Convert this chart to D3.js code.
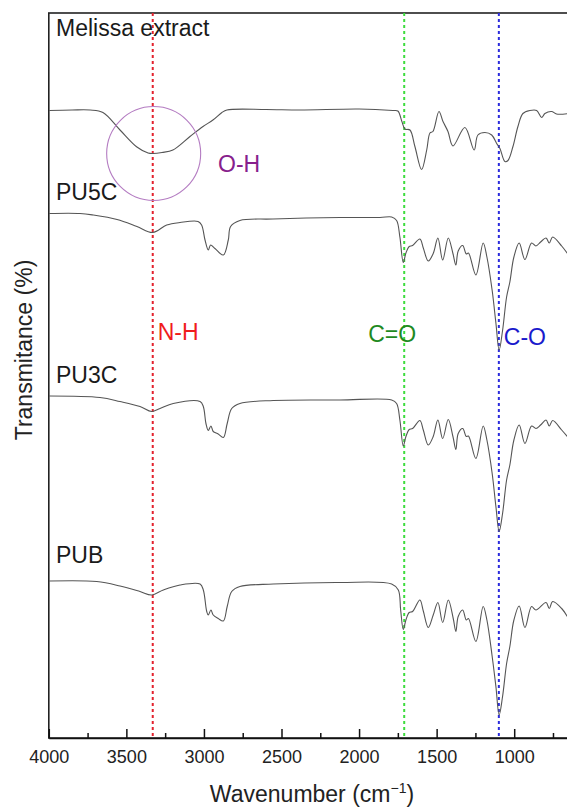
<!DOCTYPE html>
<html>
<head>
<meta charset="utf-8">
<script src="https://cdn.jsdelivr.net/npm/d3@7"></script>
<style>
  body { margin: 0; background: #fff; }
  text { font-family: "Liberation Sans", Arial, sans-serif; }
</style>
</head>
<body>
<div id="chart"></div>
<script>
// FTIR spectra, stacked with offsets: [wavenumber (cm-1), transmittance (a.u.)]
const melissa = [
  [3998,125.5],[3850,125.6],[3734,125.6],[3651,125.1],[3541,121.6],[3432,118.2],[3360,117.0],
  [3328,116.9],[3270,117.1],[3200,117.6],[3090,120.3],[3006,122.3],[2942,123.6],[2884,125.1],[2852,125.6],
  [2600,125.7],[2381,125.6],[2000,125.8],[1782,125.5],[1750,125.4],[1724,123.3],[1704,121.8],[1672,121.6],
  [1640,118.3],[1597,113.7],[1564,117.6],[1543,121],[1524,121.3],[1485,125.3],[1459,123.3],[1427,121.3],
  [1395,118.4],[1318,122.1],[1258,117.6],[1234,120.6],[1189,121.1],[1145,120.6],[1113,118.9],[1092,117.9],
  [1060,115.3],[1040,115.5],[1008,118.3],[976,122.3],[944,124.9],[899,125.5],[855,125.5],[823,124.1],
  [802,124.9],[759,125.3],[727,124.8],[650,124.9]
]
const pu5c = [
  [3998,104.9],[3799,104.9],[3715,104.6],[3560,103.7],[3432,102.3],[3330,101.1],[3240,102.6],[3154,103.1],
  [3038,103.3],[3015,102.6],[2993,99.6],[2972,97.6],[2957,98.6],[2929,97.9],[2875,96.6],[2843,99.6],
  [2828,102.3],[2768,103.5],[2555,103.8],[2123,104.1],[1865,104.1],[1790,104.2],[1758,103.5],[1737,100.2],
  [1715,95.1],[1698,97.0],[1677,98.3],[1655,98.5],[1608,99.8],[1586,98.0],[1554,95.4],[1522,96.9],
  [1492,100.0],[1461,95.6],[1425,100.0],[1395,96.9],[1376,94.6],[1361,97.4],[1332,98.5],[1309,96.8],
  [1295,97.0],[1247,92.6],[1200,99.0],[1176,96.2],[1142,89.5],[1118,83.0],[1097,77.6],[1075,81.5],
  [1049,88.2],[1028,91.2],[1002,96.2],[968,99.0],[931,95.7],[888,99.0],[860,98.4],[830,99.2],
  [795,100.0],[774,99.0],[752,100.2],[694,98.4],[650,96.6]
]
const pu3c = [
  [3998,68.4],[3670,68.1],[3541,67.3],[3412,66.3],[3337,65.3],[3283,65.9],[3198,66.9],[3025,67.3],
  [3004,66.3],[2987,62.9],[2972,61.5],[2955,62.4],[2940,61.3],[2908,60.8],[2875,60.1],[2850,62.9],
  [2821,65.9],[2768,66.9],[2553,67.5],[2123,67.6],[1790,67.6],[1758,66.9],[1737,63.6],[1715,58.4],
  [1698,60.3],[1677,61.7],[1655,61.9],[1608,63.5],[1586,61.6],[1554,58.6],[1522,60.3],[1492,63.6],
  [1461,59.9],[1425,63.7],[1395,60.3],[1376,57.7],[1361,60.9],[1332,61.9],[1309,60.3],[1295,60.4],
  [1247,55.9],[1200,62.4],[1176,59.6],[1142,52.9],[1118,46.3],[1097,41.3],[1075,44.9],[1049,51.6],
  [1028,54.6],[1002,59.6],[968,62.6],[931,58.9],[888,62.4],[860,61.9],[830,62.6],[795,63.6],
  [774,62.4],[752,63.5],[694,61.6],[650,60]
]
const pub = [
  [3998,31.4],[3691,31.3],[3541,30.4],[3412,29.3],[3337,28.6],[3262,29.6],[3154,30.6],[3025,30.8],
  [3004,29.6],[2982,25.3],[2972,24.6],[2955,25.6],[2940,24.6],[2908,23.9],[2875,23.4],[2850,26.3],
  [2821,29.3],[2768,30.3],[2553,30.8],[2123,31.1],[1790,30.8],[1747,29.6],[1732,25.6],[1715,21.7],
  [1698,23.6],[1677,25.1],[1655,25.3],[1608,27.6],[1586,25.4],[1554,22.1],[1522,24.6],[1492,27.1],
  [1461,23.1],[1425,27.6],[1393,23.9],[1376,21.3],[1361,24.3],[1332,25.6],[1309,23.6],[1295,23.9],
  [1247,19.3],[1200,26.3],[1176,23.6],[1142,16.3],[1118,10.3],[1097,4.6],[1075,8.3],[1049,14.9],
  [1028,18.3],[1002,23.6],[968,26.4],[931,22.1],[888,26.3],[860,25.6],[795,27.1],[774,25.9],
  [752,27.3],[694,25.9],[650,23.9]
]

// spectrum names with the value their label sits at
const seriesNames = ["Melissa extract", "PU5C", "PU3C", "PUB"]
const seriesLabelY = [140.4, 107.7, 71.1, 35.1]

// marker bands: wavenumber, label, colours
const bandWavenumbers = [3330, 1709, 1099]
const bandLabels = ["N-H", "C=O", "C-O"]
const bandLineColors = ["#e3222e", "#3ddc3d", "#2b2bdc"]
const bandTextColors = ["#f01c1c", "#1f8a1f", "#1a1acc"]
const bandLabelY = [79.6, 79.3, 78.6]

// O-H circle on the extract curve
const ohCenter = [3324, 116.9]

const majorTicks = [4000, 3500, 3000, 2500, 2000, 1500, 1000]
const minorTicks = [3750, 3250, 2750, 2250, 1750, 1250, 750]

const width = 567
const height = 811

const xScale = d3.scaleLinear().domain([4000, 650]).range([48.8, 568.5])
const yScale = d3.scaleLinear().domain([0, 145]).range([738, 13])

const svg = d3.select('#chart')
  .append('svg')
  .attr('width', width)
  .attr('height', height)

// frame
svg.append('rect')
  .attr('x', xScale(4000))
  .attr('y', yScale(145))
  .attr('width', xScale(650) - xScale(4000))
  .attr('height', yScale(0) - yScale(145))
  .attr('fill', 'none')
  .attr('stroke', '#222')
  .attr('stroke-width', 1.6)

// dotted marker lines
svg.append('g')
  .selectAll('line')
  .data(bandWavenumbers)
  .join('line')
  .attr('x1', d => xScale(d))
  .attr('x2', d => xScale(d))
  .attr('y1', yScale(145))
  .attr('y2', yScale(0))
  .attr('stroke', (d, i) => bandLineColors[i])
  .attr('stroke-width', 2)
  .attr('stroke-dasharray', '3,3')

// spectra
const line = d3.line()
  .x(d => xScale(d[0]))
  .y(d => yScale(d[1]))
  .curve(d3.curveCatmullRom.alpha(0.5))

svg.append('g')
  .selectAll('path')
  .data([melissa, pu5c, pu3c, pub])
  .join('path')
  .attr('d', line)
  .attr('fill', 'none')
  .attr('stroke', '#555')
  .attr('stroke-width', 1.1)

// spectrum names
svg.append('g')
  .selectAll('text')
  .data(seriesNames)
  .join('text')
  .attr('x', 56)
  .attr('y', (d, i) => yScale(seriesLabelY[i]))
  .attr('font-size', 23)
  .attr('fill', '#1a1a1a')
  .text(d => d)

// band labels
svg.append('g')
  .selectAll('text')
  .data(bandLabels)
  .join('text')
  .attr('x', (d, i) => i === 1 ? xScale(bandWavenumbers[i]) - 36 : xScale(bandWavenumbers[i]) + 5)
  .attr('y', (d, i) => yScale(bandLabelY[i]))
  .attr('font-size', 23)
  .attr('fill', (d, i) => bandTextColors[i])
  .text(d => d)

// O-H circle and label
svg.append('circle')
  .attr('cx', xScale(ohCenter[0]))
  .attr('cy', yScale(ohCenter[1]))
  .attr('r', 47)
  .attr('fill', 'none')
  .attr('stroke', '#b47cc2')
  .attr('stroke-width', 1.1)

svg.append('text')
  .attr('x', 218)
  .attr('y', 171.5)
  .attr('font-size', 23)
  .attr('fill', '#87208c')
  .text('O-H')

// x axis, ticks point inward
const xAxis = d3.axisBottom(xScale)
  .tickValues(majorTicks)
  .tickFormat(d3.format('d'))
  .tickSizeInner(-9)
  .tickSizeOuter(0)
  .tickPadding(12)

const axisG = svg.append('g')
  .attr('transform', `translate(0 ${yScale(0)})`)
  .call(xAxis)
axisG.select('.domain').attr('stroke', '#111').attr('stroke-width', 1.6)
axisG.selectAll('.tick line').attr('stroke', '#111').attr('stroke-width', 1.5)
axisG.selectAll('.tick text')
  .attr('font-size', 18)
  .attr('font-family', '"Liberation Sans", Arial, sans-serif')
  .attr('fill', '#222')

const minorAxis = d3.axisBottom(xScale)
  .tickValues(minorTicks)
  .tickSizeInner(-5)
  .tickSizeOuter(0)
  .tickFormat('')

const minorG = svg.append('g')
  .attr('transform', `translate(0 ${yScale(0)})`)
  .call(minorAxis)
minorG.select('.domain').remove()
minorG.selectAll('.tick line').attr('stroke', '#111').attr('stroke-width', 1.5)

// axis titles
const xTitle = svg.append('text')
  .attr('x', 312)
  .attr('y', 802)
  .attr('text-anchor', 'middle')
  .attr('font-size', 23)
  .attr('fill', '#222')
xTitle.append('tspan').text('Wavenumber (cm')
xTitle.append('tspan').attr('dy', -9).attr('font-size', 14).text('\u22121')
xTitle.append('tspan').attr('dy', 9).text(')')

svg.append('text')
  .attr('transform', 'translate(32 350) rotate(-90)')
  .attr('text-anchor', 'middle')
  .attr('font-size', 23)
  .attr('fill', '#222')
  .text('Transmitance (%)')
</script>
</body>
</html>
